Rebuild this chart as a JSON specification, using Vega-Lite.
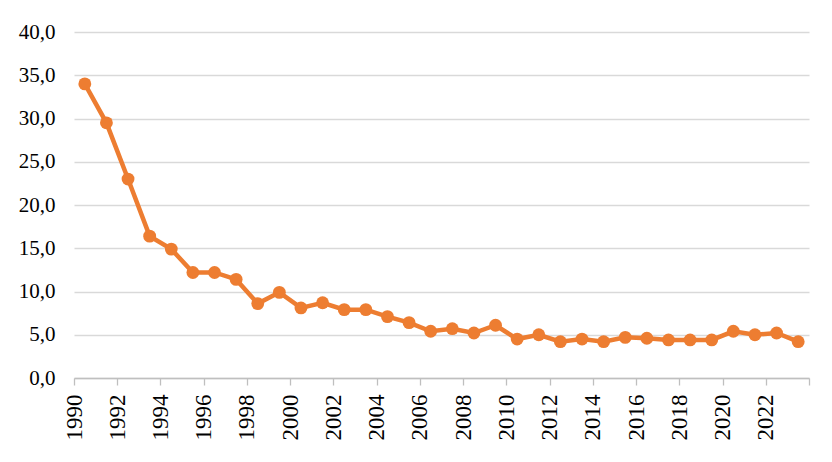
{
  "$schema": "https://vega.github.io/schema/vega-lite/v6.json",
  "width": 735,
  "height": 346,
  "autosize": {"type": "none"},
  "padding": {"left": 74, "top": 32, "right": 23, "bottom": 84},
  "background": "white",
  "config": {
    "view": {"stroke": null},
    "font": "Liberation Serif",
    "axis": {"labelFont": "Liberation Serif"}
  },
  "data": {
    "values": [
      {"year": 1990, "value": 34.0},
      {"year": 1991, "value": 29.5},
      {"year": 1992, "value": 23.0},
      {"year": 1993, "value": 16.4},
      {"year": 1994, "value": 14.9},
      {"year": 1995, "value": 12.2},
      {"year": 1996, "value": 12.2},
      {"year": 1997, "value": 11.4},
      {"year": 1998, "value": 8.6},
      {"year": 1999, "value": 9.9},
      {"year": 2000, "value": 8.1},
      {"year": 2001, "value": 8.7},
      {"year": 2002, "value": 7.9},
      {"year": 2003, "value": 7.9},
      {"year": 2004, "value": 7.1},
      {"year": 2005, "value": 6.4},
      {"year": 2006, "value": 5.4},
      {"year": 2007, "value": 5.7},
      {"year": 2008, "value": 5.2},
      {"year": 2009, "value": 6.1},
      {"year": 2010, "value": 4.5},
      {"year": 2011, "value": 5.0},
      {"year": 2012, "value": 4.2},
      {"year": 2013, "value": 4.5},
      {"year": 2014, "value": 4.2},
      {"year": 2015, "value": 4.7},
      {"year": 2016, "value": 4.6},
      {"year": 2017, "value": 4.4},
      {"year": 2018, "value": 4.4},
      {"year": 2019, "value": 4.4},
      {"year": 2020, "value": 5.4},
      {"year": 2021, "value": 5.0},
      {"year": 2022, "value": 5.2},
      {"year": 2023, "value": 4.2}
    ]
  },
  "mark": {
    "type": "line",
    "color": "#ED7D31",
    "strokeWidth": 4.5,
    "point": {"filled": true, "size": 165, "color": "#ED7D31", "opacity": 1}
  },
  "encoding": {
    "x": {
      "field": "year",
      "type": "quantitative",
      "scale": {"domain": [1989.5, 2023.5], "nice": false, "zero": false},
      "axis": {
        "title": null,
        "values": [1989.5, 1991.5, 1993.5, 1995.5, 1997.5, 1999.5, 2001.5, 2003.5, 2005.5, 2007.5, 2009.5, 2011.5, 2013.5, 2015.5, 2017.5, 2019.5, 2021.5, 2023.5],
        "labelExpr": "datum.value > 2023 ? '' : format(datum.value + 0.5, 'd')",
        "labelAngle": -90,
        "labelDy": 10.8,
        "labelFont": "Liberation Serif",
        "labelFontSize": 23,
        "labelColor": "#000000",
        "labelPadding": 9,
        "labelFlush": false,
        "labelOverlap": false,
        "grid": false,
        "domainColor": "#bfbfbf",
        "domainWidth": 1.3,
        "tickColor": "#bfbfbf",
        "tickWidth": 1.3,
        "tickSize": 7
      }
    },
    "y": {
      "field": "value",
      "type": "quantitative",
      "scale": {"domain": [0, 40], "nice": false},
      "axis": {
        "title": null,
        "values": [0, 5, 10, 15, 20, 25, 30, 35, 40],
        "labelExpr": "replace(format(datum.value, '.1f'), '.', ',')",
        "labelFont": "Liberation Serif",
        "labelFontSize": 21,
        "labelColor": "#000000",
        "labelPadding": 19,
        "domain": false,
        "ticks": false,
        "grid": true,
        "gridColor": "#d9d9d9",
        "gridWidth": 1.3
      }
    }
  }
}
